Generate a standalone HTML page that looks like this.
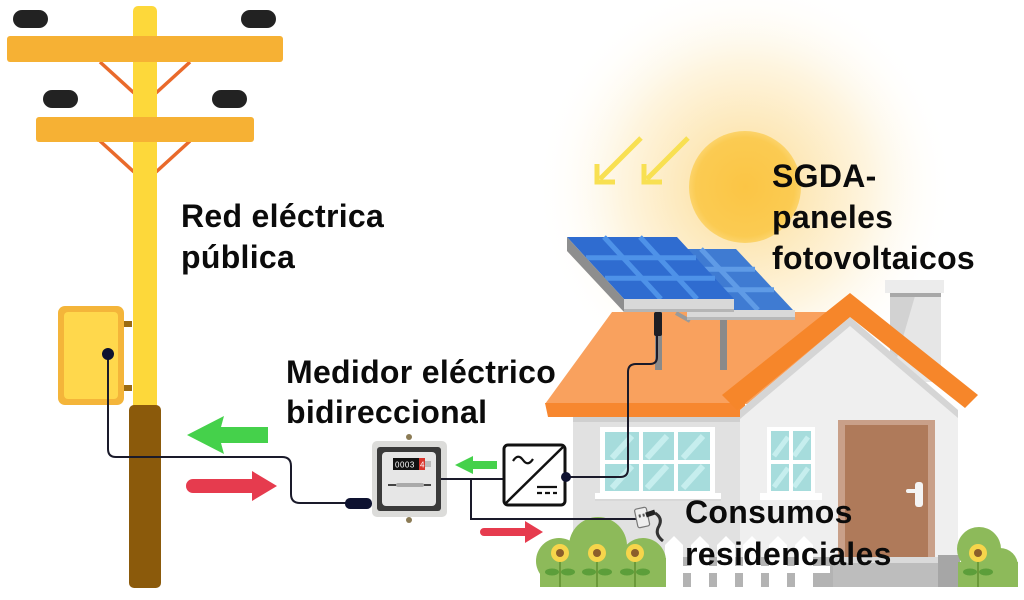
<!DOCTYPE html>
<html><head><meta charset="utf-8"><style>
html,body{margin:0;padding:0;background:#fff;}
svg{display:block;}
text{font-family:"Liberation Sans",Arial,sans-serif;font-weight:bold;fill:#0b0b0b;}
</style></head><body>
<svg width="1024" height="600" viewBox="0 0 1024 600" xmlns="http://www.w3.org/2000/svg">
<defs>
<radialGradient id="glow" cx="745" cy="187" r="210" gradientUnits="userSpaceOnUse">
<stop offset="0" stop-color="#FBDC8E"/>
<stop offset="0.3" stop-color="#FDE9BC"/>
<stop offset="0.6" stop-color="#FEF5E0"/>
<stop offset="1" stop-color="#FFFFFF" stop-opacity="0"/>
</radialGradient>
<radialGradient id="sun" cx="745" cy="187" r="58" gradientUnits="userSpaceOnUse">
<stop offset="0" stop-color="#FBC545"/>
<stop offset="0.85" stop-color="#FBCB52"/>
<stop offset="1" stop-color="#FCD672"/>
</radialGradient>
</defs>
<rect width="1024" height="600" fill="#fff"/>
<!-- sun glow -->
<circle cx="745" cy="187" r="210" fill="url(#glow)"/>
<circle cx="745" cy="187" r="56" fill="url(#sun)"/>
<!-- rays -->
<g stroke="#F8E052" stroke-width="5" fill="none" stroke-linecap="butt">
<line x1="641" y1="138" x2="600" y2="179"/>
<polyline points="597,164 597,182 615,182"/>
<line x1="688" y1="138" x2="647" y2="179"/>
<polyline points="644,164 644,182 662,182"/>
</g>

<!-- POLE -->
<g stroke="#E96A2B" stroke-width="3.5">
<line x1="100" y1="62" x2="134" y2="93"/>
<line x1="190" y1="62" x2="156" y2="93"/>
<line x1="100" y1="141" x2="134" y2="172"/>
<line x1="190" y1="141" x2="156" y2="172"/>
</g>
<rect x="133" y="6" width="24" height="410" rx="5" fill="#FDD83A"/>
<rect x="129" y="405" width="32" height="183" rx="5" fill="#8B5A0B"/>
<rect x="7" y="36" width="276" height="26" rx="3" fill="#F6B134"/>
<rect x="36" y="117" width="218" height="25" rx="3" fill="#F6B134"/>
<rect x="13" y="10" width="35" height="18" rx="9" fill="#222"/>
<rect x="241" y="10" width="35" height="18" rx="9" fill="#222"/>
<rect x="43" y="90" width="35" height="18" rx="9" fill="#222"/>
<rect x="212" y="90" width="35" height="18" rx="9" fill="#222"/>
<!-- box -->
<rect x="124" y="321" width="8" height="6" fill="#9C6B12"/>
<rect x="124" y="385" width="8" height="6" fill="#9C6B12"/>
<rect x="58" y="306" width="66" height="99" rx="7" fill="#F4B53A"/>
<rect x="64" y="312" width="54" height="87" rx="4" fill="#FFD84C"/>

<!-- arrows left -->
<polygon points="187,435 224,416 221,427 268,427 268,443 221,443 224,454" fill="#45D14B"/>
<path d="M193,479 H252 V471 L277,486 L252,501 V493 H193 A7,7 0 0 1 193,479 Z" fill="#E63B4E"/>

<!-- wire pole to meter -->
<path d="M108,354 V449 Q108,457 116,457 H282 Q291,457 291,466 V494 Q291,503 300,503 H346" fill="none" stroke="#1a1a2a" stroke-width="2"/>
<circle cx="108" cy="354" r="6" fill="#0E1230"/>
<rect x="345" y="498" width="27" height="11" rx="5" fill="#0E1230"/>

<!-- METER -->
<circle cx="409" cy="437" r="3" fill="#8B7B55"/>
<circle cx="409" cy="520" r="3" fill="#8B7B55"/>
<rect x="372" y="441" width="75" height="76" rx="5" fill="#DCDCDA"/>
<rect x="377" y="447" width="64" height="64" rx="3" fill="#3A3A3A"/>
<rect x="382" y="452" width="54" height="54" rx="4" fill="#E6E6E6"/>
<rect x="393" y="458" width="32" height="12" fill="#111"/>
<rect x="419" y="458" width="6" height="12" fill="#D8342C"/>
<rect x="425" y="461" width="6" height="6" fill="#bbb"/>
<text x="395" y="467.5" style="font-size:8px;fill:#fff;font-weight:normal;letter-spacing:0.5px">0003</text>
<text x="420" y="467.5" style="font-size:8px;fill:#fff;font-weight:normal">4</text>
<line x1="388" y1="485" x2="431" y2="485" stroke="#444" stroke-width="2"/>
<rect x="396" y="483" width="28" height="4" rx="2" fill="#aaa"/>

<!-- small arrows -->
<polygon points="455,465 473,456 473,461 497,461 497,469 473,469 473,474" fill="#45D14B"/>
<path d="M484,528 H525 V521 L543,532 L525,543 V536 H484 A4,4 0 0 1 484,528 Z" fill="#E63B4E"/>

<!-- HOUSE -->
<!-- chimney -->
<rect x="890" y="292" width="51" height="90" fill="#D2D2D2"/>
<polygon points="915,296 941,296 941,382 890,382" fill="#E6E6E6"/>
<rect x="890" y="292" width="51" height="5" fill="#A8A8A8"/>
<rect x="885" y="280" width="59" height="13" fill="#ECECEC"/>
<!-- left roof -->
<polygon points="612,312 850,312 850,404 545,404" fill="#F9A15E"/>
<polygon points="545,403 745,403 745,417 548,417" fill="#F7872F"/>
<!-- left wall -->
<rect x="573" y="417" width="170" height="140" fill="#E1E1E1"/>
<rect x="573" y="417" width="170" height="5" fill="#CFCFCF"/>
<!-- right wing wall -->
<polygon points="740,410 850,317 958,410 958,557 740,557" fill="#EFEFEF"/>
<polygon points="740,410 850,317 958,410 958,418 850,326 740,419" fill="#D5D5D5"/>
<!-- gable stroke -->
<polygon points="722,395 850,293 978,395 965,408 850,317 737,410" fill="#F6862A"/>

<!-- panels posts -->
<rect x="720" y="318" width="7" height="52" fill="#8A8A8A"/>
<rect x="655" y="312" width="7" height="58" fill="#8A8A8A"/>
<line x1="676" y1="313" x2="690" y2="321" stroke="#9A9A9A" stroke-width="4"/>
<!-- panel 2 -->
<polygon points="630,249 736,249 793,310 687,310" fill="#3F7BD2"/>
<g stroke="#5F9BE6" stroke-width="5">
<line x1="649" y1="269.3" x2="755" y2="269.3"/>
<line x1="668" y1="289.7" x2="774" y2="289.7"/>
<line x1="665" y1="249" x2="722" y2="310"/>
<line x1="701" y1="249" x2="758" y2="310"/>
</g>
<polygon points="687,310 795,310 795,320 687,320" fill="#D9D9D9"/>
<polygon points="687,317 795,317 795,320 687,320" fill="#B8B8B8"/>
<!-- panel 1 -->
<polygon points="567,237 677,237 734,299 624,299" fill="#2F6CD0"/>
<g stroke="#4E92E8" stroke-width="5">
<line x1="586" y1="257.7" x2="696" y2="257.7"/>
<line x1="605" y1="278.3" x2="715" y2="278.3"/>
<line x1="604" y1="237" x2="661" y2="299"/>
<line x1="640" y1="237" x2="697" y2="299"/>
</g>
<polygon points="567,237 624,299 624,312 567,251" fill="#8E8E8E"/>
<polygon points="624,299 734,299 734,312 624,312" fill="#D8D8D8"/>
<polygon points="624,309 734,309 734,312 624,312" fill="#B5B5B5"/>
<rect x="654" y="312" width="8" height="24" rx="2" fill="#1E1E24"/>

<!-- windows -->
<rect x="600" y="427" width="115" height="68" fill="#fff"/>
<rect x="605" y="432" width="105" height="59" fill="#A6DCDC"/>
<g stroke="#C6EEEE" stroke-width="6">
<line x1="612" y1="458" x2="632" y2="436"/>
<line x1="647" y1="458" x2="667" y2="436"/>
<line x1="683" y1="458" x2="703" y2="436"/>
<line x1="612" y1="488" x2="632" y2="466"/>
<line x1="647" y1="488" x2="667" y2="466"/>
<line x1="683" y1="488" x2="703" y2="466"/>
</g>
<rect x="639" y="432" width="4" height="59" fill="#fff"/>
<rect x="674" y="432" width="4" height="59" fill="#fff"/>
<rect x="605" y="460" width="105" height="4" fill="#fff"/>
<rect x="595" y="493" width="126" height="7" fill="#fff"/>
<rect x="595" y="499" width="126" height="2" fill="#D8D8D8"/>

<rect x="767" y="427" width="48" height="68" fill="#fff"/>
<rect x="771" y="431" width="40" height="60" fill="#A6DCDC"/>
<g stroke="#C6EEEE" stroke-width="5">
<line x1="774" y1="456" x2="788" y2="437"/>
<line x1="794" y1="456" x2="808" y2="437"/>
<line x1="774" y1="487" x2="788" y2="468"/>
<line x1="794" y1="487" x2="808" y2="468"/>
</g>
<rect x="789" y="431" width="4" height="60" fill="#fff"/>
<rect x="771" y="460" width="40" height="4" fill="#fff"/>
<rect x="760" y="493" width="62" height="7" fill="#fff"/>

<!-- door -->
<rect x="838" y="420" width="97" height="137" fill="#C9A089"/>
<rect x="845" y="425" width="83" height="132" fill="#AF7A5A"/>
<rect x="915" y="482" width="8" height="25" rx="3" fill="#F4F4F4"/>
<rect x="906" y="489" width="14" height="4" rx="2" fill="#F4F4F4"/>

<!-- base -->
<rect x="573" y="557" width="387" height="30" fill="#B3B3B3"/>
<rect x="833" y="557" width="105" height="30" fill="#BDBDBD"/>
<rect x="833" y="557" width="105" height="6" fill="#DADADA"/>
<rect x="938" y="555" width="22" height="32" fill="#A6A6A6"/>

<!-- fence -->
<rect x="660" y="566" width="170" height="7" fill="#fff"/>
<g fill="#fff">
<polygon points="665,545 674,536 683,545 683,587 665,587"/>
<polygon points="691,545 700,536 709,545 709,587 691,587"/>
<polygon points="717,545 726,536 735,545 735,587 717,587"/>
<polygon points="743,545 752,536 761,545 761,587 743,587"/>
<polygon points="769,545 778,536 787,545 787,587 769,587"/>
<polygon points="795,545 804,536 813,545 813,587 795,587"/>
</g>

<!-- bushes -->
<g fill="#8DBA5A">
<circle cx="598" cy="546" r="29"/>
<circle cx="559" cy="561" r="23"/>
<circle cx="643" cy="561" r="23"/>
<rect x="540" y="558" width="126" height="29"/>
<circle cx="979" cy="549" r="22"/>
<circle cx="1000" cy="566" r="18"/>
<rect x="958" y="562" width="60" height="25"/>
</g>
<g>
<g stroke="#6B9A3A" stroke-width="2">
<line x1="560" y1="556" x2="560" y2="587"/>
<line x1="597" y1="556" x2="597" y2="587"/>
<line x1="635" y1="556" x2="635" y2="587"/>
<line x1="978" y1="556" x2="978" y2="587"/>
</g>
<g fill="#5C9E3A">
<ellipse cx="552" cy="572" rx="7" ry="3.5"/><ellipse cx="568" cy="572" rx="7" ry="3.5"/>
<ellipse cx="589" cy="572" rx="7" ry="3.5"/><ellipse cx="605" cy="572" rx="7" ry="3.5"/>
<ellipse cx="627" cy="572" rx="7" ry="3.5"/><ellipse cx="643" cy="572" rx="7" ry="3.5"/>
<ellipse cx="970" cy="572" rx="7" ry="3.5"/><ellipse cx="986" cy="572" rx="7" ry="3.5"/>
</g>
<g fill="#F6D54B">
<circle cx="560" cy="553" r="9"/><circle cx="597" cy="553" r="9"/><circle cx="635" cy="553" r="9"/><circle cx="978" cy="553" r="9"/>
</g>
<g fill="#8B5E2B">
<circle cx="560" cy="553" r="4"/><circle cx="597" cy="553" r="4"/><circle cx="635" cy="553" r="4"/><circle cx="978" cy="553" r="4"/>
</g>
</g>

<!-- wires over house -->
<g fill="none" stroke="#1a1a2a" stroke-width="2">
<line x1="441" y1="479" x2="504" y2="479"/>
<polyline points="471,479 471,519 638,519"/>
<path d="M566,477 H620 Q628,477 628,469 V372 Q628,364 636,364 H650 Q657,364 657,357 V334"/>
</g>

<!-- outlet -->
<g transform="rotate(-12 642 517)">
<rect x="636" y="508" width="12" height="19" rx="2" fill="#EEEEEE" stroke="#777" stroke-width="1.2"/>
<rect x="639" y="514" width="2" height="3" fill="#555"/>
<rect x="643" y="514" width="2" height="3" fill="#555"/>
</g>
<path d="M646,515 L655,512" stroke="#222" stroke-width="5"/>
<path d="M655,513 Q663,518 659,526 Q654,534 663,541" fill="none" stroke="#333" stroke-width="3"/>

<!-- INVERTER -->
<rect x="504" y="445" width="61" height="60" rx="4" fill="#fff" stroke="#111" stroke-width="3"/>
<line x1="505" y1="504" x2="564" y2="446" stroke="#111" stroke-width="2.5"/>
<path d="M513,461 Q518,453 523,460 Q528,467 533,459" fill="none" stroke="#111" stroke-width="2.2"/>
<line x1="537" y1="487" x2="557" y2="487" stroke="#111" stroke-width="2.2"/>
<line x1="537" y1="493" x2="557" y2="493" stroke="#111" stroke-width="2.2" stroke-dasharray="5,3"/>
<circle cx="566" cy="477" r="5" fill="#0E1230"/>

<!-- TEXT -->
<g style="font-size:32px;letter-spacing:0.3px">
<text x="181" y="227">Red eléctrica</text>
<text x="181" y="268">pública</text>
<text x="286" y="383">Medidor eléctrico</text>
<text x="286" y="423">bidireccional</text>
<text x="772" y="187">SGDA-</text>
<text x="772" y="228">paneles</text>
<text x="772" y="269">fotovoltaicos</text>
<text x="685" y="523">Consumos</text>
<text x="685" y="565">residenciales</text>
</g>
</svg>
</body></html>
